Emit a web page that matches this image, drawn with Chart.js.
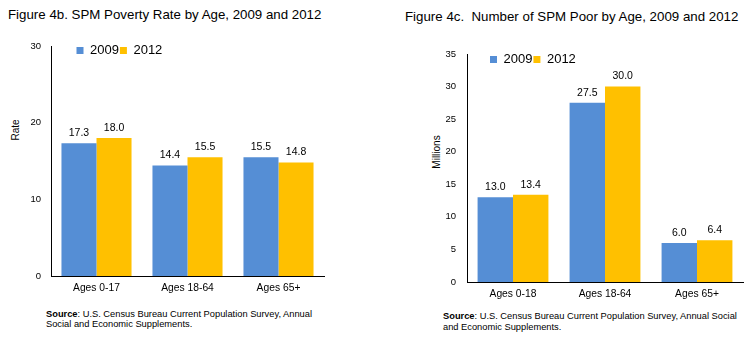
<!DOCTYPE html>
<html>
<head>
<meta charset="utf-8">
<script src="https://cdn.jsdelivr.net/npm/chart.js@4"></script>
<style>
  body { margin: 0; background: #fff; }
  #wrap { position: relative; width: 750px; height: 352px; overflow: hidden; font-family: "Liberation Sans", Arial, sans-serif; color: #000; }
  canvas { position: absolute; top: 0; }
  .title { position: absolute; font-size: 13.3px; line-height: 16px; white-space: nowrap; }
  .note { position: absolute; font-size: 9.3px; white-space: nowrap; }
  .ytitle { position: absolute; font-size: 10px; white-space: nowrap; transform: translate(-50%, -50%) rotate(-90deg); }
</style>
</head>
<body>
<div id="wrap">
  <div class="title" style="left:8px; top:7px;">Figure 4b. SPM Poverty Rate by Age, 2009 and 2012</div>
  <div class="title" style="left:405px; top:9px;">Figure 4c.&nbsp; Number of SPM Poor by Age, 2009 and 2012</div>
  <div class="ytitle" style="left:15px; top:130px;">Rate</div>
  <div class="ytitle" style="left:436px; top:152px;">Millions</div>
  <canvas id="rateChart" width="375" height="300" style="left:0;"></canvas>
  <canvas id="poorChart" width="375" height="310" style="left:375px;"></canvas>
  <div class="note" style="left:46px; top:309px; line-height:10px;"><b>Source</b>: U.S. Census Bureau Current Population Survey, Annual<br>Social and Economic Supplements.</div>
  <div class="note" style="left:443px; top:311px; line-height:11px;"><b>Source</b>: U.S. Census Bureau Current Population Survey, Annual Social<br>and Economic Supplements.</div>
</div>
<script>
const years = ["2009", "2012"];
const colors = ["#558ED5", "#FFC000"];

// Figure 4b: poverty rate
const rateAges = ["Ages 0-17", "Ages 18-64", "Ages 65+"];
const rate2009 = [17.3, 14.4, 15.5];
const rate2012 = [18.0, 15.5, 14.8];
const rateMax = 30;
const rateStep = 10;

// Figure 4c: number poor (millions)
const poorAges = ["Ages 0-18", "Ages 18-64", "Ages 65+"];
const poor2009 = [13.0, 27.5, 6.0];
const poor2012 = [13.4, 30.0, 6.4];
const poorMax = 35;
const poorStep = 5;

Chart.defaults.font.family = '"Liberation Sans", Arial, sans-serif';
Chart.defaults.color = "#000";

// legend sits inside the plot area, like the Excel original
const insideLegend = {
  id: "insideLegend",
  beforeInit(chart) {
    const fit = chart.legend.fit;
    chart.legend.fit = function () {
      fit.call(this);
      this.height = 0;
    };
  },
  afterLayout(chart, args, opts) {
    const lg = chart.legend;
    lg.left = opts.x;
    lg.top = opts.y;
    lg.right = opts.x + 200;
    lg.bottom = opts.y + 20;
  },
};

// value labels above the bars
const barValues = {
  id: "barValues",
  afterDatasetsDraw(chart) {
    const ctx = chart.ctx;
    ctx.save();
    ctx.font = '10.5px "Liberation Sans", Arial, sans-serif';
    ctx.fillStyle = "#000";
    ctx.textAlign = "center";
    ctx.textBaseline = "middle";
    chart.data.datasets.forEach((ds, i) => {
      chart.getDatasetMeta(i).data.forEach((bar, j) => {
        ctx.fillText(ds.data[j].toFixed(1), bar.x, bar.y - 10);
      });
    });
    ctx.restore();
  },
};

function makeChart(id, labels, first, second, max, step, lay) {
  new Chart(document.getElementById(id), {
    type: "bar",
    data: {
      labels: labels,
      datasets: [
        { label: years[0], data: first, backgroundColor: colors[0], borderWidth: 0 },
        { label: years[1], data: second, backgroundColor: colors[1], borderWidth: 0 },
      ],
    },
    options: {
      responsive: false,
      animation: false,
      devicePixelRatio: 1,
      categoryPercentage: 0.77,
      barPercentage: 1,
      layout: { padding: lay.padding },
      plugins: {
        legend: {
          position: "top",
          align: "start",
          labels: { boxWidth: 7, boxHeight: 7, padding: 1, font: { size: 13 }, color: "#000" },
        },
        tooltip: { enabled: false },
        insideLegend: lay.legend,
      },
      scales: {
        x: {
          grid: { display: false, drawTicks: false },
          border: { display: true, color: "#000", width: 1 },
          ticks: { font: { size: 10.3 }, color: "#000", padding: 6 },
          afterFit: (s) => { s.height = 24; },
        },
        y: {
          min: 0,
          max: max,
          grid: { display: false, drawTicks: false },
          border: { display: true, color: "#000", width: 1 },
          ticks: { stepSize: step, font: { size: 9.5 }, color: "#000", padding: lay.tickPad },
          afterFit: (s) => { s.width = lay.axisWidth; },
        },
      },
    },
    plugins: [insideLegend, barValues],
  });
}

makeChart("rateChart", rateAges, rate2009, rate2012, rateMax, rateStep, {
  padding: { left: 0, top: 46, right: 51, bottom: 0 },
  axisWidth: 51,
  tickPad: 10,
  legend: { x: 75.5, y: 43 },
});

makeChart("poorChart", poorAges, poor2009, poor2012, poorMax, poorStep, {
  padding: { left: 0, top: 54, right: 7, bottom: 4 },
  axisWidth: 92,
  tickPad: 11,
  legend: { x: 114, y: 52 },
});
</script>
</body>
</html>
